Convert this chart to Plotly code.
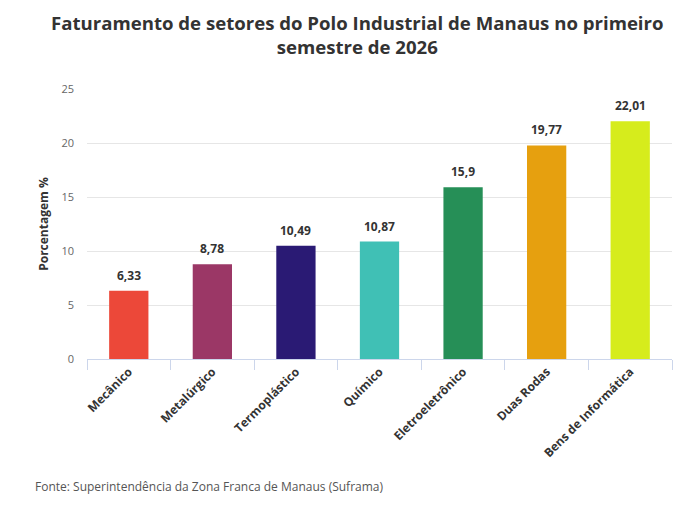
import plotly.graph_objects as go

# dados
setores = ["Mecânico", "Metalúrgico", "Termoplástico", "Químico",
           "Eletroeletrônico", "Duas Rodas", "Bens de Informática"]
valores = [6.33, 8.78, 10.49, 10.87, 15.9, 19.77, 22.01]
rotulos = ["6,33", "8,78", "10,49", "10,87", "15,9", "19,77", "22,01"]
cores = ["#ec4839", "#9b3766", "#2a1a74", "#40c0b5",
         "#268f57", "#e6a00f", "#d6ec1c"]

FONT = "Open Sans"

fig = go.Figure(go.Bar(
    x=setores,
    y=valores,
    marker=dict(color=cores, line=dict(width=0)),
    hoverinfo="skip",
))

# rótulos de valor acima das barras
for s, v, r in zip(setores, valores, rotulos):
    fig.add_annotation(
        x=s, y=v, text="<b>%s</b>" % r, showarrow=False,
        yanchor="bottom", yshift=5,
        font=dict(family=FONT, size=12, color="#333333"),
    )

fig.update_layout(
    width=700, height=509,
    margin=dict(l=79, r=36, t=81, b=158),
    paper_bgcolor="white",
    plot_bgcolor="white",
    bargap=0.53,
    showlegend=False,
    font=dict(family=FONT, color="#333333"),
    title=dict(
        text="<b>Faturamento de setores do Polo Industrial de Manaus no primeiro<br>semestre de 2026</b>",
        x=0.499, xanchor="center", y=0.957, yanchor="middle",
        font=dict(family=FONT, size=18.6, color="#333333"),
    ),
)

fig.update_yaxes(
    range=[0, 25], dtick=5,
    showgrid=True, gridcolor="#e6e6e6", gridwidth=1,
    zeroline=False, showline=False,
    tickfont=dict(family=FONT, size=11, color="#666666"),
    ticklabelstandoff=12,
    title=dict(text="<b>Porcentagem %</b>", standoff=10,
               font=dict(family=FONT, size=12, color="#333333")),
)

fig.update_xaxes(
    showline=True, linecolor="#ccd6eb", linewidth=1,
    ticks="outside", tickson="boundaries", ticklen=10, tickcolor="#ccd6eb",
    tickangle=-45,
    tickfont=dict(family=FONT, size=12, color="#333333", weight="bold"),
)

fig.add_annotation(
    text="Fonte: Superintendência da Zona Franca de Manaus (Suframa)",
    xref="paper", yref="paper", x=-0.093, y=-0.474,
    xanchor="left", yanchor="middle", showarrow=False,
    font=dict(family=FONT, size=12, color="#555555"),
)

fig.write_html("out.html")
